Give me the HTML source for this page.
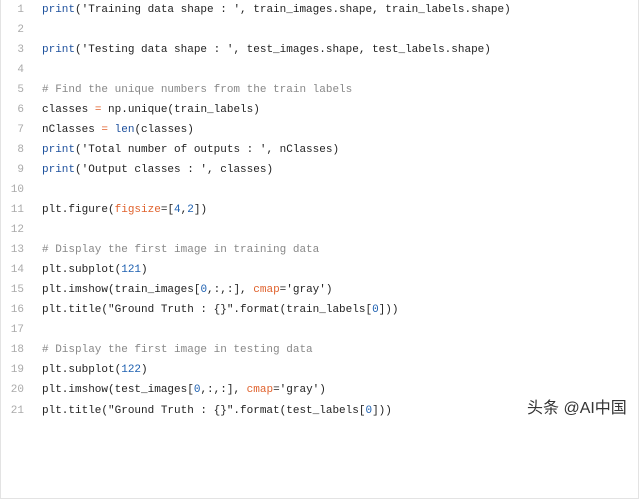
<!DOCTYPE html>
<html><head><style>
body{margin:0;width:640px;height:423px;background:#fff;overflow:hidden;position:relative}
.box{position:absolute;left:0;top:-2px;width:637px;height:500px;border:1px solid #e3e3e3;border-top:none}
.l{position:absolute;left:0;height:20px;line-height:20px;font-family:"Liberation Mono",monospace;font-size:11px;color:#222;white-space:pre}
.n{display:inline-block;width:24px;text-align:right;color:#aaa;margin-right:18px}
.k{color:#1c4f9c}.c{color:#888}.o{color:#e0622d}.m{color:#1c5fb0}
.wm{position:absolute;left:527px;top:394px;font-family:"Liberation Sans","Noto Sans CJK SC",sans-serif;font-size:16px;color:#333}
</style></head><body>
<div class="box"></div>
<div class="l" style="top:0"><span class="n">1</span><span class="k">print</span>('Training data shape : ', train_images.shape, train_labels.shape)</div>
<div class="l" style="top:20px"><span class="n">2</span></div>
<div class="l" style="top:40px"><span class="n">3</span><span class="k">print</span>('Testing data shape : ', test_images.shape, test_labels.shape)</div>
<div class="l" style="top:60px"><span class="n">4</span></div>
<div class="l" style="top:80px"><span class="n">5</span><span class="c"># Find the unique numbers from the train labels</span></div>
<div class="l" style="top:100px"><span class="n">6</span>classes <span class="o">=</span> np.unique(train_labels)</div>
<div class="l" style="top:120px"><span class="n">7</span>nClasses <span class="o">=</span> <span class="k">len</span>(classes)</div>
<div class="l" style="top:140px"><span class="n">8</span><span class="k">print</span>('Total number of outputs : ', nClasses)</div>
<div class="l" style="top:160px"><span class="n">9</span><span class="k">print</span>('Output classes : ', classes)</div>
<div class="l" style="top:180px"><span class="n">10</span></div>
<div class="l" style="top:200px"><span class="n">11</span>plt.figure(<span class="o">figsize</span>=[<span class="m">4</span>,<span class="m">2</span>])</div>
<div class="l" style="top:220px"><span class="n">12</span></div>
<div class="l" style="top:240px"><span class="n">13</span><span class="c"># Display the first image in training data</span></div>
<div class="l" style="top:260px"><span class="n">14</span>plt.subplot(<span class="m">121</span>)</div>
<div class="l" style="top:280px"><span class="n">15</span>plt.imshow(train_images[<span class="m">0</span>,:,:], <span class="o">cmap</span>='gray')</div>
<div class="l" style="top:300px"><span class="n">16</span>plt.title("Ground Truth : {}".format(train_labels[<span class="m">0</span>]))</div>
<div class="l" style="top:320px"><span class="n">17</span></div>
<div class="l" style="top:340px"><span class="n">18</span><span class="c"># Display the first image in testing data</span></div>
<div class="l" style="top:360px"><span class="n">19</span>plt.subplot(<span class="m">122</span>)</div>
<div class="l" style="top:380px"><span class="n">20</span>plt.imshow(test_images[<span class="m">0</span>,:,:], <span class="o">cmap</span>='gray')</div>
<div class="l" style="top:401px"><span class="n">21</span>plt.title("Ground Truth : {}".format(test_labels[<span class="m">0</span>]))</div>
<div class="wm">头条 @AI中国</div>
</body></html>
